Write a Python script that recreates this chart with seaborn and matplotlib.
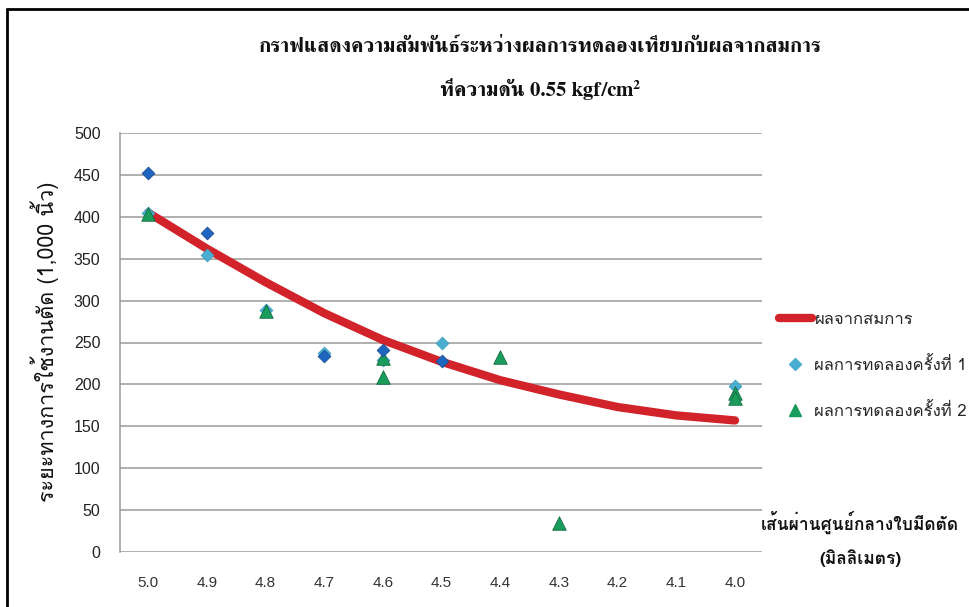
import numpy as np
import pandas as pd
import matplotlib
matplotlib.use("Agg")
import matplotlib.pyplot as plt
from matplotlib import font_manager
from matplotlib.ft2font import FT2Font
from matplotlib.lines import Line2D
import seaborn as sns

# ---- data ---------------------------------------------------------------
diameters = [5.0, 4.9, 4.8, 4.7, 4.6, 4.5, 4.4, 4.3, 4.2, 4.1, 4.0]
equation_values = [405, 362, 322, 285, 253, 227, 205, 188, 173, 163, 157]

exp1_x = [5.0, 4.9, 4.8, 4.7, 4.6, 4.5, 4.0]
exp1_y = [404, 354, 289, 237, 229, 250, 198]

exp1b_x = [5.0, 4.9, 4.7, 4.6, 4.5]
exp1b_y = [452, 381, 234, 241, 228]

exp2_x = [5.0, 4.8, 4.6, 4.6, 4.4, 4.3, 4.0, 4.0]
exp2_y = [403, 287, 232, 209, 233, 35, 190, 184]

y_ticks = [0, 50, 100, 150, 200, 250, 300, 350, 400, 450, 500]

title_line1 = "กราฟแสดงความสัมพันธ์ระหว่างผลการทดลองเทียบกับผลจากสมการ"
title_line2 = "ที่ความดัน 0.55 kgf/cm²"
y_label = "ระยะทางการใช้งานตัด (1,000 นิ้ว)"
x_label = "เส้นผ่านศูนย์กลางใบมีดตัด\n(มิลลิเมตร)"
legend_labels = ["ผลจากสมการ", "ผลการทดลองครั้งที่ 1", "ผลการทดลองครั้งที่ 2"]

# ---- fonts: pick installed families that carry Thai glyphs ---------------
def thai_families():
    found = []
    for f in font_manager.fontManager.ttflist:
        try:
            cmap = FT2Font(f.fname).get_charmap()
        except Exception:
            continue
        if 0x0E01 in cmap and f.name not in found:
            found.append(f.name)
    return found

thai = thai_families()
serif_thai = [n for n in thai if "Serif" in n or "Looped" in n]
sans_list = thai + ["Liberation Sans", "DejaVu Sans"]
serif_list = serif_thai + thai + ["Liberation Serif", "DejaVu Serif"]

sns.set_theme(style="white")
plt.rcParams["font.family"] = sans_list

# ---- figure -------------------------------------------------------------
W, H = 970, 607
fig = plt.figure(figsize=(W / 100, H / 100), dpi=100)
fig.patch.set_facecolor("white")

def fx(px):
    return px / W

def fy(py):
    return 1 - py / H

ax = fig.add_axes([fx(120), fy(552), fx(762) - fx(120), fy(133) - fy(552)])

eq_df = pd.DataFrame({"d": diameters, "v": equation_values})
e1 = pd.DataFrame({"d": exp1_x, "v": exp1_y})
e1b = pd.DataFrame({"d": exp1b_x, "v": exp1b_y})
e2 = pd.DataFrame({"d": exp2_x, "v": exp2_y})

for t in y_ticks:
    ax.axhline(t, color="#9a9a9a", lw=1.1, zorder=0)

sns.lineplot(data=eq_df, x="d", y="v", ax=ax, color="#d2222a", lw=6.0,
             solid_capstyle="round", zorder=2, legend=False)
sns.scatterplot(data=e1, x="d", y="v", ax=ax, marker="D", s=42,
                color="#4aaed0", edgecolor="#3f9fc0", linewidth=0.6,
                zorder=3, legend=False)
sns.scatterplot(data=e2, x="d", y="v", ax=ax, marker="^", s=95,
                color="#1a9d5c", edgecolor="#136b40", linewidth=0.6,
                zorder=4, legend=False)
sns.scatterplot(data=e1b, x="d", y="v", ax=ax, marker="D", s=42,
                color="#1f66c0", edgecolor="#1a4f8f", linewidth=0.6,
                zorder=5, legend=False)

ax.set_xlim(5.048, 3.954)
ax.set_ylim(0, 500)
ax.set_yticks(y_ticks)
ax.set_yticklabels([str(v) for v in y_ticks], fontsize=11.5,
                   family=["Liberation Sans", "DejaVu Sans"], color="#222222")
ax.set_xticks(diameters)
ax.set_xticklabels([f"{d:.1f}" for d in diameters], fontsize=11,
                   family=["Liberation Sans Narrow", "Liberation Sans", "DejaVu Sans"],
                   color="#333333")
ax.tick_params(axis="y", length=0, pad=14)
ax.tick_params(axis="x", length=0, pad=17)
ax.set_xlabel("")
ax.set_ylabel("")
for side in ["top", "right", "bottom"]:
    ax.spines[side].set_visible(False)
ax.spines["left"].set_color("#9a9a9a")
ax.spines["left"].set_linewidth(1.1)

# y-axis title
fig.text(fx(45), fy(342), y_label, rotation=90, ha="center", va="center",
         fontsize=15.5, family=sans_list, color="#111111")

# x-axis title at the lower right
fig.text(fx(860), fy(539), x_label, ha="center", va="center", fontsize=12.5,
         family=sans_list, color="#111111", linespacing=2.0, fontweight="bold")

# chart title
fig.text(fx(540), fy(47), title_line1, ha="center", va="center", fontsize=15,
         family=serif_list, fontweight="bold", color="#111111")
fig.text(fx(540), fy(89), title_line2, ha="center", va="center", fontsize=15,
         family=serif_list, fontweight="bold", color="#111111")

# legend
handles = [
    Line2D([], [], color="#d2222a", lw=6, solid_capstyle="round"),
    Line2D([], [], marker="D", ls="none", color="#4aaed0", markersize=6),
    Line2D([], [], marker="^", ls="none", color="#1a9d5c", markersize=9),
]
fig.legend(handles, legend_labels, loc="upper left",
           bbox_to_anchor=(fx(772), fy(305)), frameon=False,
           labelspacing=1.75, handlelength=2.0, handletextpad=0.15,
           borderaxespad=0.0, prop={"family": sans_list, "size": 12})

# outer frame of the sheet
fig.add_artist(Line2D([fx(7), fx(7)], [fy(9), 0], color="black", lw=2,
                      transform=fig.transFigure))
fig.add_artist(Line2D([fx(7), 1], [fy(9), fy(9)], color="black", lw=2,
                      transform=fig.transFigure))

fig.savefig("out.png", dpi=100)
